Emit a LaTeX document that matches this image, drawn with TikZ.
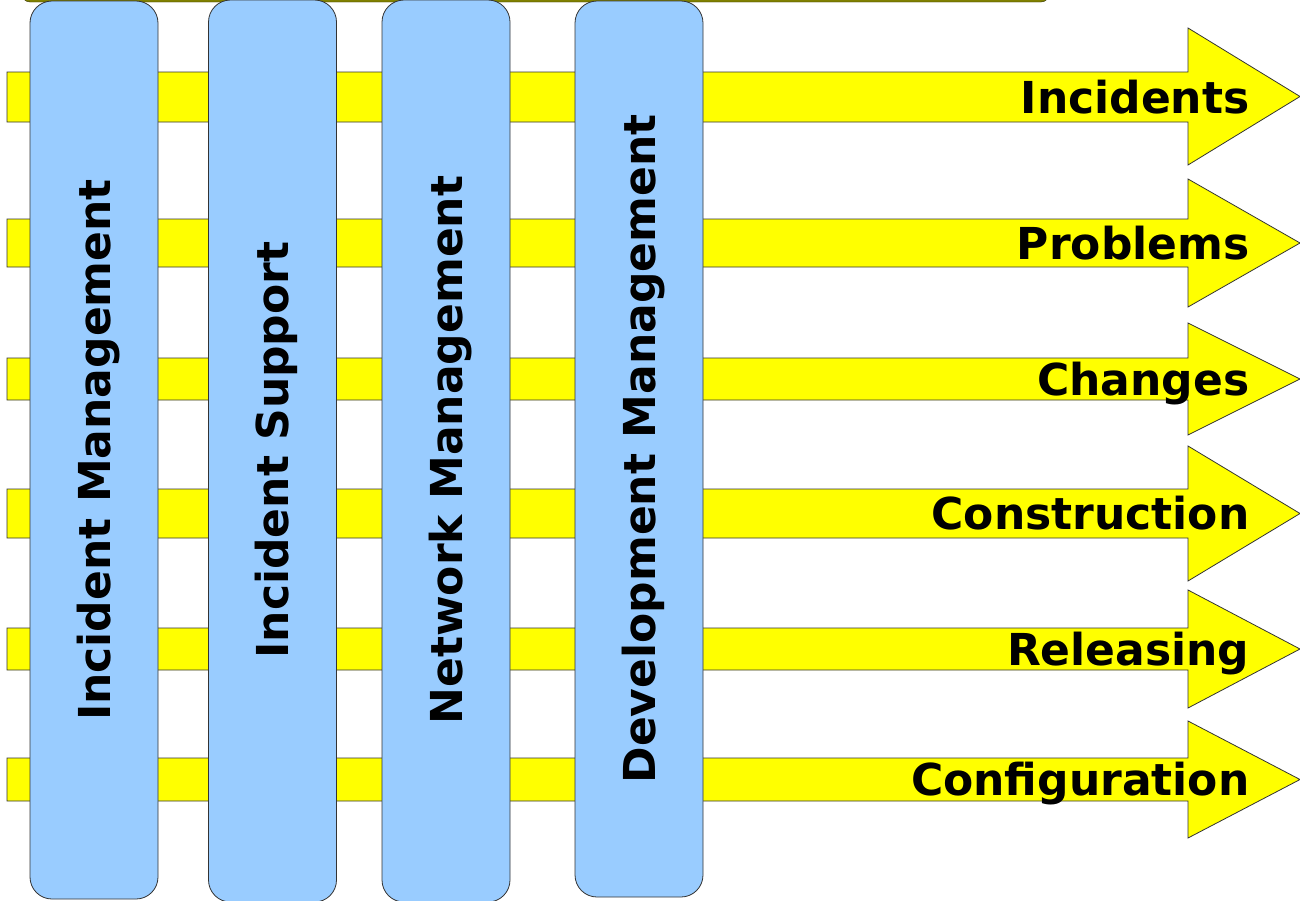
\documentclass[tikz,border=0pt]{standalone}
\usepackage{fontspec}
\setmainfont{DejaVu Sans}
\usetikzlibrary{positioning}
\definecolor{laneblue}{RGB}{153,204,255}
\definecolor{flowyellow}{RGB}{255,255,0}
\definecolor{topolive}{RGB}{128,128,0}

\begin{document}
\begin{tikzpicture}[x=1pt, y=-1pt, font=\bfseries\fontsize{44}{52}\selectfont,
	flow/.style={fill=flowyellow, draw=black!80, line width=0.8pt},
	lane/.style={fill=laneblue, draw=black!80, line width=0.8pt, rounded corners=22pt,
		minimum width=128pt, inner sep=0pt}]
	\useasboundingbox (0,0) rectangle (1300,900);
	% bar along the top, mostly cut off
	\draw[fill=topolive, draw=black!60!topolive, rounded corners=8pt] (22,-40) rectangle (1049,2);
	
	% process arrows
	\foreach \st/\sb/\ht/\hb/\lbl/\nm in {72/122/28/165/Incidents/inc,
			219/267/179/307/Problems/prb,
			358/400/323/435/Changes/chg,
			489/538/446/581/Construction/con,
			628/670/590/708/Releasing/rel,
			758/801/721/838/Configuration/cfg}{
		\draw[flow] (7,\st) -- (1188,\st) -- (1188,\ht) -- (1300,{(\ht+\hb)/2})
			-- (1188,\hb) -- (1188,\sb) -- (7,\sb) -- cycle;
		\node[anchor=base east] (\nm) at (1253,{(\st+\sb)/2+16}) {\lbl};
	}
	
	% functional lanes
	\node[lane, minimum height=898pt] (im) at (94,450) {};
	\node[lane, minimum height=902pt] (is) at (272.5,451) {};
	\node[lane, minimum height=902pt] (nm) at (446,451) {};
	\node[lane, minimum height=896pt] (dm) at (639,449) {};
	
	\node[rotate=90, anchor=base] (imtext) at ([xshift=16pt]im.center) {Incident Management};
	\node[rotate=90, anchor=base] (istext) at ([xshift=16pt, yshift=1pt]is.center) {Incident Support};
	\node[rotate=90, anchor=base] (nmtext) at ([xshift=16pt, yshift=1pt]nm.center) {Network Management};
	\node[rotate=90, anchor=base] (dmtext) at ([xshift=16pt]dm.center) {Development Management};
\end{tikzpicture}
\end{document}
